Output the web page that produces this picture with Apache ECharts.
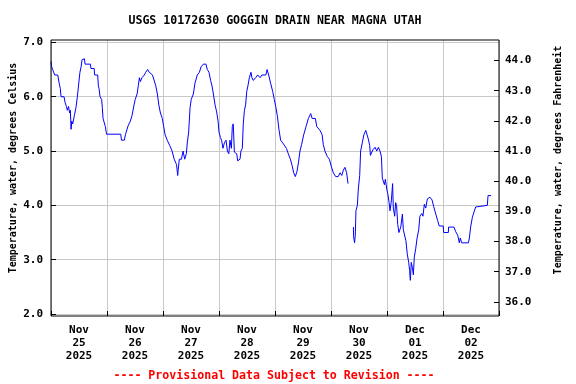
<!DOCTYPE html>
<html><head><meta charset="utf-8">
<script src="https://cdn.jsdelivr.net/npm/echarts@6/dist/echarts.min.js"></script>
<style>html,body{margin:0;padding:0;background:#fff}#c{width:576px;height:384px}</style>
</head><body><div id="c"></div>
<script>
const titleText = 'USGS 10172630 GOGGIN DRAIN NEAR MAGNA UTAH';
const leftAxisName = 'Temperature, water, degrees Celsius';
const rightAxisName = 'Temperature, water, degrees Fahrenheit';
const footnote = '---- Provisional Data Subject to Revision ----';
const dateLabels = ['Nov\n25\n2025','Nov\n26\n2025','Nov\n27\n2025','Nov\n28\n2025','Nov\n29\n2025','Nov\n30\n2025','Dec\n01\n2025','Dec\n02\n2025'];
// hours since 2025-11-25 00:00
const hours = [0,0.3,0.7,1.4,1.6,2.9,3.5,4.0,4.3,5.6,6.0,6.6,7.0,7.5,8.0,8.3,8.6,8.9,9.3,10.0,10.7,11.3,11.9,12.4,12.9,13.3,13.9,14.3,14.6,16.9,17.1,18.5,18.7,20.0,20.3,20.6,21.0,21.7,22.0,22.3,23.3,23.8,29.9,30.2,31.4,31.9,33.0,34.0,34.7,35.6,36.1,36.9,37.4,37.9,38.3,39.0,40.0,40.6,41.4,42.1,43.5,44.2,44.9,45.6,46.2,46.9,47.7,48.3,48.9,49.8,50.9,51.9,52.8,53.8,54.3,54.5,55.0,55.9,56.6,57.3,58.0,58.4,59.0,59.6,60.1,61.0,61.7,62.7,63.6,64.3,65.3,66.4,67.0,67.7,68.4,69.0,69.6,70.3,71.0,71.6,72.0,72.6,73.1,73.7,74.3,75.0,75.6,76.2,76.7,77.3,77.7,78.1,78.6,79.6,80.0,81.0,81.4,82.0,82.4,82.9,83.4,83.9,84.4,85.0,85.7,86.1,86.7,87.7,88.6,89.6,90.4,92.1,92.6,93.3,94.1,95.0,95.7,96.4,97.0,97.7,98.4,99.3,100.0,100.9,101.7,102.6,103.4,104.0,104.7,105.4,106.1,106.7,107.4,108.3,109.3,110.3,111.3,111.9,113.3,113.9,115.3,116.2,116.7,117.4,118.4,119.3,120.1,121.0,122.0,123.1,123.9,124.6,125.3,126.0,126.7,127.3,128.5,129.6,129.7,130.1,130.4,130.7,131.3,131.7,132.3,132.7,133.4,134.1,134.9,135.3,136.0,136.6,136.9,137.4,137.9,138.9,139.6,140.3,141.0,141.6,142.0,142.4,142.9,143.3,143.9,144.4,144.9,145.3,145.9,146.4,146.7,147.3,147.7,148.1,148.6,149.1,149.9,150.6,151.0,151.7,152.1,152.7,153.3,153.7,154.0,154.4,154.9,155.3,155.7,156.3,156.9,157.6,158.1,158.9,159.4,160.0,160.6,161.3,162.4,163.3,164.0,164.9,165.7,166.4,168.1,168.3,170.3,170.4,172.7,173.4,174.3,175.0,175.4,176.0,178.9,179.3,179.9,180.6,181.3,182.0,182.4,187.0,187.3,188.6];
const tempC = [6.65,6.55,6.5,6.5,6.4,6.4,6.25,6.15,6.0,6.0,5.9,5.82,5.75,5.82,5.7,5.75,5.4,5.55,5.5,5.65,5.8,6.0,6.25,6.45,6.55,6.68,6.65,6.7,6.6,6.6,6.52,6.52,6.4,6.4,6.2,6.15,6.0,5.95,5.8,5.6,5.45,5.31,5.31,5.2,5.2,5.3,5.46,5.55,5.65,5.85,5.95,6.05,6.2,6.35,6.28,6.35,6.4,6.45,6.5,6.45,6.4,6.4,6.2,6.05,5.85,5.7,5.6,5.45,5.3,5.2,5.1,5.0,4.85,4.75,4.55,4.65,4.85,4.85,5.0,4.85,4.95,5.15,5.35,5.8,5.95,6.05,6.25,6.4,6.45,6.55,6.6,6.6,6.5,6.45,6.3,6.2,6.05,5.85,5.72,5.55,5.35,5.25,5.2,5.05,5.15,5.2,5.0,4.95,5.2,5.05,5.45,5.5,4.98,4.95,4.82,4.85,5.0,5.05,5.5,5.75,5.85,6.1,6.2,6.35,6.45,6.35,6.3,6.35,6.4,6.35,6.4,6.4,6.5,6.4,6.25,6.1,5.95,5.8,5.65,5.4,5.2,5.15,5.17,5.05,4.95,4.85,4.72,4.6,4.53,4.62,4.8,5.0,5.12,5.3,5.45,5.6,5.69,5.6,5.6,5.45,5.38,5.3,5.12,5.0,4.9,4.85,4.72,4.6,4.53,4.53,4.6,4.55,4.65,4.7,4.6,4.4,null,3.6,3.42,3.31,3.45,3.9,4.0,4.3,4.55,5.0,5.15,5.3,5.38,5.4,5.22,5.1,4.92,4.92,5.02,5.07,5.0,5.07,5.0,4.9,4.5,4.5,4.38,4.48,4.3,4.2,4.05,3.9,4.1,4.4,3.95,3.8,4.05,4.0,3.65,3.5,3.6,3.84,3.55,3.55,3.35,3.1,2.95,2.8,2.62,2.95,2.85,2.72,3.05,3.2,3.4,3.55,3.8,3.85,3.8,4.02,3.95,4.12,4.15,4.1,3.98,3.84,3.72,3.62,3.62,3.5,3.5,3.6,3.6,3.52,3.45,3.31,3.4,3.31,3.31,3.4,3.62,3.78,3.88,3.97,4.0,4.0,4.18,4.18];
const hourRange = [0, 192];
const hourStep = 24;
const celsiusRange = [2, 7];
const fahrenheitRange = [36, 44];

const FONT = "'DejaVu Sans Mono', monospace";
const GRID_COLOR = '#c8c8c8';
const chart = echarts.init(document.getElementById('c'), null, {renderer: 'canvas'});
const seriesData = hours.map((h, i) => [h, tempC[i] === null ? '-' : tempC[i]]);
const tickLabel = {color: '#000', fontFamily: FONT, fontWeight: 'bold', fontSize: 11};
const noLine = {show: false, onZero: false};
const tick = {show: true, inside: true, length: 5, lineStyle: {color: '#000'}};

chart.setOption({
  animation: false,
  backgroundColor: '#fff',
  grid: [
    {left: 51, right: 77, top: 40, bottom: 68, show: true, borderColor: '#000', borderWidth: 1, backgroundColor: 'transparent', z: 5},
    {left: 51, right: 77, top: 42.4, bottom: 70, show: false},
    {left: 51, right: 77, top: 60.5, bottom: 82.1, show: false}
  ],
  xAxis: [
    {gridIndex: 0, type: 'value', min: hourRange[0], max: hourRange[1], interval: hourStep, position: 'bottom',
     axisLine: noLine, axisLabel: {show: false}, axisTick: tick,
     splitLine: {show: true, lineStyle: {color: GRID_COLOR, width: 1}}},
    {gridIndex: 0, type: 'category', data: dateLabels, boundaryGap: true, position: 'bottom',
     axisLine: noLine, axisTick: {show: false}, splitLine: {show: false},
     axisLabel: Object.assign({margin: 8, lineHeight: 13, interval: 0}, tickLabel)},
    {gridIndex: 1, type: 'value', min: hourRange[0], max: hourRange[1], show: false, axisLine: noLine},
    {gridIndex: 2, type: 'value', min: hourRange[0], max: hourRange[1], show: false, axisLine: noLine}
  ],
  yAxis: [
    {gridIndex: 0, type: 'value', min: 0, max: 1, show: false, axisLine: noLine},
    {gridIndex: 1, type: 'value', min: celsiusRange[0], max: celsiusRange[1], interval: 1, position: 'left',
     axisLine: noLine, axisTick: tick,
     splitLine: {show: true, lineStyle: {color: GRID_COLOR, width: 1}},
     axisLabel: Object.assign({margin: 8, formatter: v => v.toFixed(1)}, tickLabel)},
    {gridIndex: 2, type: 'value', min: fahrenheitRange[0], max: fahrenheitRange[1], interval: 1, position: 'right',
     axisLine: noLine, axisTick: tick,
     splitLine: {show: false},
     axisLabel: Object.assign({margin: 6, formatter: v => v.toFixed(1)}, tickLabel)}
  ],
  series: [{
    type: 'line', xAxisIndex: 2, yAxisIndex: 1, data: seriesData,
    showSymbol: false, symbol: 'none', connectNulls: false, z: 3,
    lineStyle: {color: '#0000ff', width: 1}
  }],
  graphic: [
    {type: 'text', x: 275, y: 20.5, style: {text: titleText, font: 'bold 11.6px ' + FONT, fill: '#000', align: 'center', verticalAlign: 'middle', textAlign: 'center', textVerticalAlign: 'middle'}},
    {type: 'text', x: 13, y: 168, rotation: Math.PI / 2, style: {text: leftAxisName, font: 'bold 10px ' + FONT, fill: '#000', align: 'center', verticalAlign: 'middle', textAlign: 'center', textVerticalAlign: 'middle'}},
    {type: 'text', x: 558, y: 160, rotation: Math.PI / 2, style: {text: rightAxisName, font: 'bold 10px ' + FONT, fill: '#000', align: 'center', verticalAlign: 'middle', textAlign: 'center', textVerticalAlign: 'middle'}},
    {type: 'text', x: 274, y: 375.5, style: {text: footnote, font: 'bold 11.6px ' + FONT, fill: '#ff0000', align: 'center', verticalAlign: 'middle', textAlign: 'center', textVerticalAlign: 'middle'}}
  ]
});
</script></body></html>
